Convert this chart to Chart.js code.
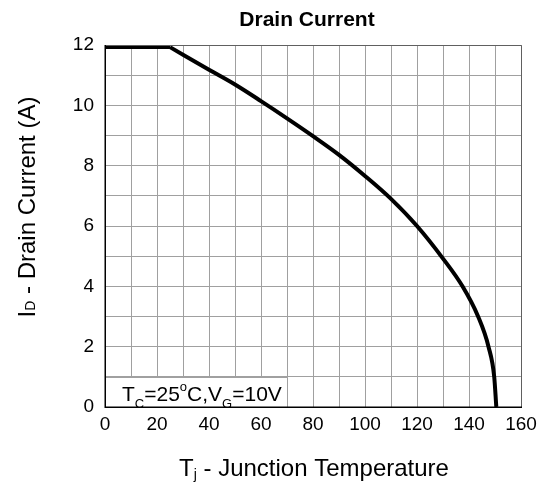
<!DOCTYPE html>
<html>
<head>
<meta charset="utf-8">
<script src="https://cdn.jsdelivr.net/npm/chart.js@4.4.1/dist/chart.umd.min.js"></script>
<style>
html,body{margin:0;padding:0;background:#fff;}
#wrap{width:547px;height:487px;position:relative;}
</style>
</head>
<body>
<div id="wrap"><canvas id="c" width="547" height="487"></canvas></div>
<script>
// ---- data ----
const flatTemps = [0, 25];
const flatCurrent = [11.93, 11.93];
const curveTemps = [25, 40, 50, 60, 70, 80, 90, 100, 110, 120, 130, 137.5, 143.5, 147.5, 149.7, 150.5];
const curveCurrent = [11.93, 11.18, 10.69, 10.14, 9.57, 8.98, 8.36, 7.66, 6.9, 6.0, 4.92, 4, 3, 2, 1, 0];
const xTickLabels = [0, 20, 40, 60, 80, 100, 120, 140, 160];
const yTickLabels = [0, 2, 4, 6, 8, 10, 12];
const titleText = "Drain Current";
const xTitleMain = "T", xTitleSub = "j", xTitleRest = " - Junction Temperature";
const yTitleMain = "I", yTitleSub = "D", yTitleRest = " - Drain Current (A)";
const noteBox = {xMax: 70, yMax: 1};

const FONT = "'Liberation Sans', Arial, sans-serif";
const GRID = '#a0a0a0';

function pts(xs, ys){ return xs.map((x,i)=>({x:x, y:ys[i]})); }

const overlay = {
  id: 'overlay',
  beforeDatasetsDraw(chart){
    const ctx = chart.ctx, xs = chart.scales.x, ys = chart.scales.y, a = chart.chartArea;
    const xr = Math.round(xs.getPixelForValue(noteBox.xMax)) + 0.5;
    const yt = Math.round(ys.getPixelForValue(noteBox.yMax)) + 0.5;
    ctx.save();
    ctx.fillStyle = '#fff';
    ctx.fillRect(a.left, yt, xr - a.left, a.bottom - yt);
    ctx.strokeStyle = GRID; ctx.lineWidth = 1;
    ctx.beginPath();
    ctx.moveTo(a.left, yt); ctx.lineTo(xr, yt);
    ctx.moveTo(xr, yt); ctx.lineTo(xr, a.bottom);
    ctx.stroke();
    // annotation text
    ctx.fillStyle = '#000';
    ctx.textBaseline = 'alphabetic';
    let x = a.left + 17, base = a.bottom - 6.5;
    const big = '21px ' + FONT, small = '13px ' + FONT;
    const seg = [[ 'T', big, 0], ['C', small, 7], ['=25', big, 0], ['o', small, -10], ['C,V', big, 0], ['G', small, 7], ['=10V', big, 0]];
    seg.forEach(s => { ctx.font = s[1]; ctx.fillText(s[0], x, base + s[2]); x += ctx.measureText(s[0]).width; });
    ctx.restore();
  },
  afterDraw(chart){
    const ctx = chart.ctx, a = chart.chartArea;
    ctx.save();
    // frame
    ctx.strokeStyle = '#606060'; ctx.lineWidth = 1;
    ctx.beginPath();
    ctx.moveTo(Math.round(a.left), Math.round(a.top)+0.5); ctx.lineTo(Math.round(a.right)+0.5, Math.round(a.top)+0.5);
    ctx.lineTo(Math.round(a.right)+0.5, Math.round(a.bottom));
    ctx.stroke();
    ctx.strokeStyle = '#000'; ctx.lineWidth = 1.5;
    ctx.beginPath();
    ctx.moveTo(Math.round(a.left)+0.25, a.top); ctx.lineTo(Math.round(a.left)+0.25, Math.round(a.bottom)+0.25);
    ctx.lineTo(a.right+1, Math.round(a.bottom)+0.25);
    ctx.stroke();
    // title
    ctx.fillStyle = '#000';
    ctx.textAlign = 'center'; ctx.textBaseline = 'alphabetic';
    ctx.font = 'bold 21px ' + FONT;
    ctx.fillText(titleText, (a.left + a.right)/2 - 6, 26);
    const big = '24px ' + FONT, small = '14px ' + FONT;
    function drawParts(cx, base, parts){
      let w = 0;
      parts.forEach(p => { ctx.font = p[1]; w += ctx.measureText(p[0]).width; });
      let x = cx - w/2;
      ctx.textAlign = 'left';
      parts.forEach(p => { ctx.font = p[1]; ctx.fillText(p[0], x, base + p[2]); x += ctx.measureText(p[0]).width; });
    }
    // x title
    drawParts(314, 476, [[xTitleMain, big, 0], [xTitleSub, small, 3], [xTitleRest, big, 0]]);
    // y title
    ctx.save();
    ctx.translate(35, 207);
    ctx.rotate(-Math.PI/2);
    drawParts(0, 0, [[yTitleMain, big, 0], [yTitleSub, small, 0], [yTitleRest, big, 0]]);
    ctx.restore();
    ctx.restore();
  }
};

new Chart(document.getElementById('c'), {
  type: 'line',
  data: {
    datasets: [
      { data: pts(flatTemps, flatCurrent), borderColor: '#000', borderWidth: 4, pointRadius: 0, tension: 0, fill: false },
      { data: pts(curveTemps, curveCurrent), borderColor: '#000', borderWidth: 4, pointRadius: 0, cubicInterpolationMode: 'monotone', fill: false }
    ]
  },
  options: {
    responsive: false,
    animation: false,
    devicePixelRatio: 1,
    layout: { padding: { top: 45, right: 26, left: 0, bottom: 0 } },
    plugins: { legend: { display: false }, tooltip: { enabled: false }, title: { display: false } },
    scales: {
      x: {
        type: 'linear', min: 0, max: 160,
        afterFit(s){ s.height = 80; },
        ticks: { stepSize: 10, autoSkip: false, maxRotation: 0, padding: 6, color: '#000',
          font: { family: FONT, size: 19 },
          callback: v => xTickLabels.includes(v) ? String(v) : '' },
        grid: { color: GRID, lineWidth: 1, drawTicks: false },
        border: { display: false }
      },
      y: {
        min: 0, max: 12,
        afterFit(s){ s.width = 105; },
        ticks: { stepSize: 1, autoSkip: false, padding: 11, color: '#000',
          font: { family: FONT, size: 19 },
          callback: v => yTickLabels.includes(v) ? String(v) : '' },
        grid: { color: GRID, lineWidth: 1, drawTicks: false },
        border: { display: false }
      }
    }
  },
  plugins: [overlay]
});
</script>
</body>
</html>
